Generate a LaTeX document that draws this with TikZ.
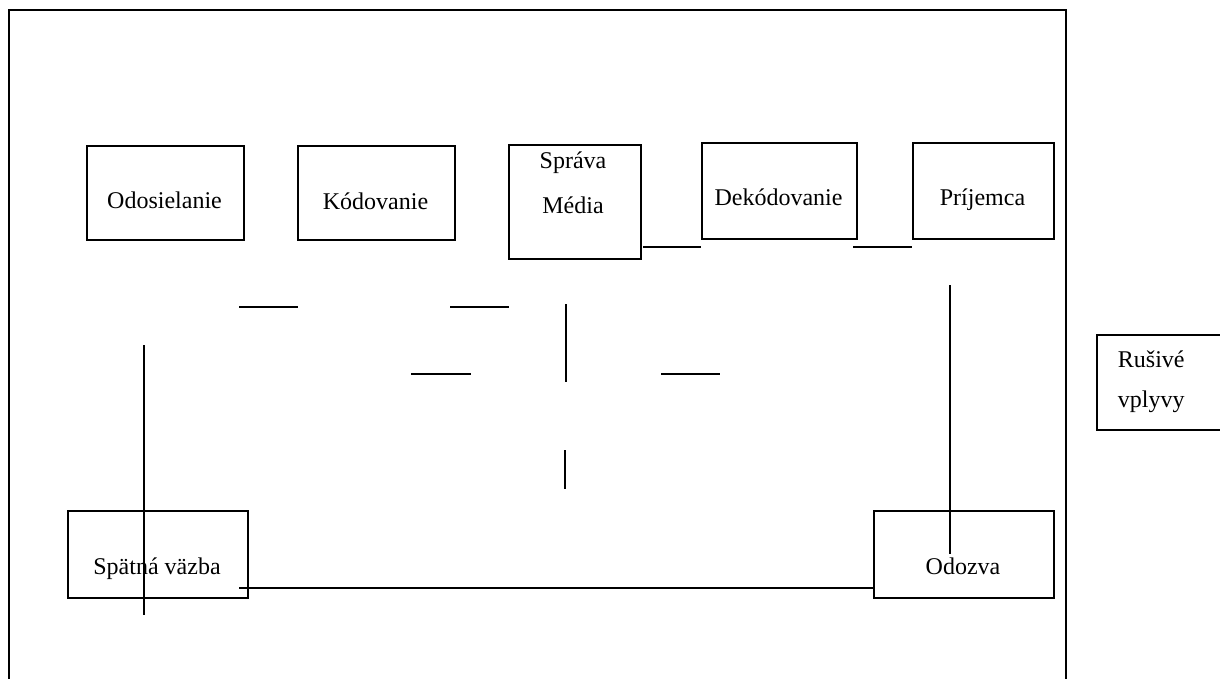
\documentclass[tikz,border=0pt]{standalone}
\usepackage{fontspec}
\setmainfont{Liberation Serif}
\begin{document}
\begin{tikzpicture}[x=1pt,y=-1pt,line width=1.8pt,
  box/.style={draw,rectangle,inner sep=0pt,anchor=north west},
  lbl/.style={inner sep=0pt,anchor=base,font=\fontsize{24}{28}\selectfont},
  seg/.style={draw,line width=1.8pt}]
\useasboundingbox (0,0) rectangle (1220,679);
% outer frame (open at bottom)
\draw (9,679) -- (9,10) -- (1066,10) -- (1066,679);
% boxes
\node[box,minimum width=157pt,minimum height=94pt] (odos) at (86,145) {};
\node[box,minimum width=157pt,minimum height=94pt] (kod) at (297,145) {};
\node[box,minimum width=132pt,minimum height=114pt] (sprava) at (508,144) {};
\node[box,minimum width=155pt,minimum height=96pt] (dekod) at (701,142) {};
\node[box,minimum width=141pt,minimum height=96pt] (prij) at (912,142) {};
\node[box,minimum width=180pt,minimum height=87pt] (spat) at (67,510) {};
\node[box,minimum width=180pt,minimum height=87pt] (odoz) at (873,510) {};
% labels
\node[lbl] (todos) at (164.5,208) {Odosielanie};
\node[lbl] (tkod) at (375.5,209) {Kódovanie};
\node[lbl] (tspr1) at (573,169) {Správa};
\node[lbl] (tspr2) at (573,214) {Média};
\node[lbl] (tdek) at (778.5,206) {Dekódovanie};
\node[lbl] (tprij) at (982.5,206) {Príjemca};
\node[lbl] (tspat) at (157,574) {Spätná väzba};
\node[lbl] (todoz) at (963,574) {Odozva};
\node[lbl,anchor=base west] (trus1) at (1117,367) {Rušivé};
\node[lbl,anchor=base west] (trus2) at (1117,407) {vplyvy};
% Rušivé vplyvy box (right side cut by page edge)
\draw (1221,335) -- (1097,335) -- (1097,430) -- (1221,430);
% free line segments
\coordinate (a1) at (239,307); \coordinate (a2) at (298,307);
\coordinate (b1) at (450,307); \coordinate (b2) at (509,307);
\coordinate (c1) at (411,374); \coordinate (c2) at (471,374);
\coordinate (d1) at (566,304); \coordinate (d2) at (566,382);
\coordinate (e1) at (661,374); \coordinate (e2) at (720,374);
\coordinate (f1) at (565,450); \coordinate (f2) at (565,489);
\coordinate (g1) at (643,247); \coordinate (g2) at (701,247);
\coordinate (h1) at (853,247); \coordinate (h2) at (912,247);
\coordinate (i1) at (144,345); \coordinate (i2) at (144,615);
\coordinate (j1) at (950,285); \coordinate (j2) at (950,554);
\coordinate (k1) at (239,588); \coordinate (k2) at (873,588);
\draw[seg] (a1) -- (a2);
\draw[seg] (b1) -- (b2);
\draw[seg] (c1) -- (c2);
\draw[seg] (d1) -- (d2);
\draw[seg] (e1) -- (e2);
\draw[seg] (f1) -- (f2);
\draw[seg] (g1) -- (g2);
\draw[seg] (h1) -- (h2);
\draw[seg] (i1) -- (i2);
\draw[seg] (j1) -- (j2);
\draw[seg] (k1) -- (k2);
\end{tikzpicture}
\end{document}
